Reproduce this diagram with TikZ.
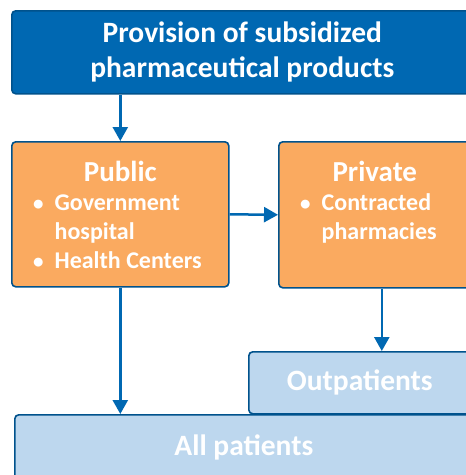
\documentclass[tikz,border=0pt]{standalone}
\usepackage{fontspec}
\setmainfont{Carlito}
\usetikzlibrary{arrows.meta,positioning}

\definecolor{provblue}{RGB}{0,104,178}
\definecolor{edgeblue}{RGB}{0,82,140}
\definecolor{sectororange}{RGB}{250,170,96}
\definecolor{patientblue}{RGB}{189,215,238}

\newcommand{\smallbull}{{\fontsize{21}{21}\selectfont\textbullet}}

\tikzset{
  box/.style={draw=edgeblue, line width=1.6pt, rounded corners=4pt, anchor=north west,
    inner sep=0pt, text=white},
  sourcebox/.style={box, fill=provblue, align=center,
    font=\fontsize{29.5}{35}\selectfont\bfseries},
  sectorbox/.style={box, fill=sectororange},
  patientbox/.style={box, fill=patientblue, font=\fontsize{29.5}{34}\selectfont\bfseries},
  sectortitle/.style={text=white, inner sep=0pt, font=\fontsize{29}{29}\selectfont\bfseries},
  sectorlist/.style={anchor=north west, text=white, inner sep=0pt,
    font=\fontsize{24}{29}\selectfont\bfseries},
  flow/.style={draw=provblue, line width=2.5pt, -{Triangle[width=15pt,length=14pt]}}
}

\begin{document}
\begin{tikzpicture}[x=1pt,y=-1pt]

  \useasboundingbox (0,0) rectangle (466,475);
  \clip (0,0) rectangle (466,475);

  \node[sourcebox, minimum width=461pt, minimum height=83pt] (provision) at (11,10)
    {Provision of subsidized\\pharmaceutical products};

  \node[sectorbox, minimum width=217pt, minimum height=145pt] (public) at (11,141) {};
  \node[sectorbox, minimum width=192pt, minimum height=146pt] (private) at (278,141) {};

  % sector contents
  \node[sectortitle] (publictitle) at ([yshift=-30pt]public.north) {Public};
  \node[sectorlist] (publiclist) at ([xshift=22pt,yshift=-49pt]public.north west) {%
    \begin{tabular}{@{}l@{\hspace{11pt}}l@{}}
      \smallbull & Government\\
                 & hospital\\
      \smallbull & Health Centers
    \end{tabular}};
  \node[sectortitle] (privatetitle) at ([yshift=-30pt]private.north) {Private};
  \node[sectorlist] (privatelist) at ([xshift=22pt,yshift=-49pt]private.north west) {%
    \begin{tabular}{@{}l@{\hspace{11pt}}l@{}}
      \smallbull & Contracted\\
                 & pharmacies
    \end{tabular}};

  \node[patientbox, minimum width=222pt, minimum height=62pt] (outpatients) at (248,351)
    {Outpatients};
  \node[patientbox, minimum width=458pt, minimum height=66pt] (allpatients) at (14,414)
    {All patients};

  \draw[flow] (public.north |- provision.south) -- (public.north);
  \draw[flow] (public.east) -- (private.west);
  \draw[flow] (public.south) -- (public.south |- allpatients.north);
  \draw[flow] ([xshift=7pt]private.south) -- ([xshift=7pt]private.south |- outpatients.north);

\end{tikzpicture}
\end{document}
